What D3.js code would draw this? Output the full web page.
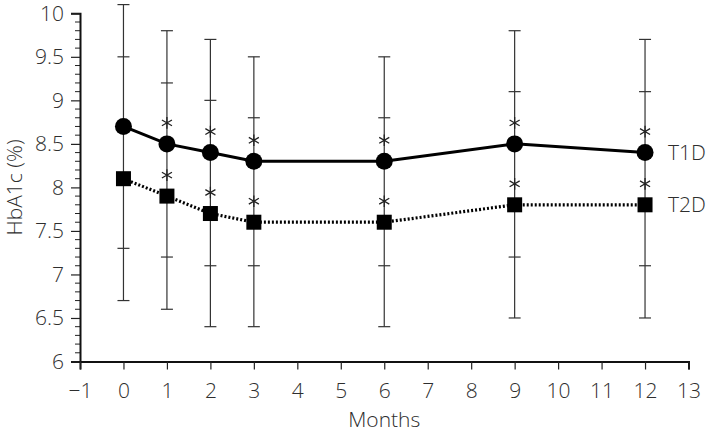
<!DOCTYPE html>
<html><head><meta charset="utf-8">
<script src="https://cdn.jsdelivr.net/npm/d3@7"></script>
<style>
body{margin:0;background:#fff;}
text{font-family:"Open Sans",sans-serif;font-weight:300;fill:#2e2e2e;}
</style></head>
<body><svg id="c" width="709" height="434"></svg>
<script>
const months = [0, 1, 2, 3, 6, 9, 12];
const t1dMean = [8.7, 8.5, 8.4, 8.3, 8.3, 8.5, 8.4];
const t1dSD   = [1.4, 1.3, 1.3, 1.2, 1.2, 1.3, 1.3];
const t2dMean = [8.1, 7.9, 7.7, 7.6, 7.6, 7.8, 7.8];
const t2dSD   = [1.4, 1.3, 1.3, 1.2, 1.2, 1.3, 1.3];
const signif  = [false, true, true, true, true, true, true];
const xTicks = d3.range(-1, 14);
const yTicks = [6, 6.5, 7, 7.5, 8, 8.5, 9, 9.5, 10];
const seriesNames = ["T1D", "T2D"];

const svg = d3.select("#c");
const x = d3.scaleLinear().domain([-1, 13]).range([80, 688.5]);
const y = d3.scaleLinear().domain([6, 10]).range([361.5, 13.3]);

// minor y ticks
const minor = d3.range(6, 10.001, 0.1).filter(v => Math.abs(v*2 - Math.round(v*2)) > 1e-6);
svg.append("g").selectAll("line").data(minor).join("line")
  .attr("x1", x(-1) - 5).attr("x2", x(-1))
  .attr("y1", d => y(d)).attr("y2", d => y(d))
  .attr("stroke", "#222").attr("stroke-width", 1);

const yAxis = svg.append("g").attr("transform", `translate(${x(-1)},0)`)
  .call(d3.axisLeft(y).tickValues(yTicks).tickFormat(d => d).tickSizeOuter(0).tickSize(9).tickPadding(7));
const xAxis = svg.append("g").attr("transform", `translate(0,${y(6)})`)
  .call(d3.axisBottom(x).tickValues(xTicks).tickFormat(d => d < 0 ? "\u2212" + Math.abs(d) : d).tickSizeOuter(0).tickSize(8).tickPadding(14));
[yAxis, xAxis].forEach(a => {
  a.select(".domain").attr("stroke", "#111").attr("stroke-width", 2);
  a.selectAll(".tick line").attr("stroke", "#222").attr("stroke-width", 1.2);
  a.selectAll("text").attr("font-size", 21).attr("font-family", '"Open Sans",sans-serif').attr("fill", "#2e2e2e");
});

// axis titles
svg.append("text").attr("x", x(6)).attr("y", 427).attr("text-anchor", "middle")
  .attr("font-size", 21).text("Months");
svg.append("text").attr("transform", `translate(22,${y(8)}) rotate(-90)`).attr("text-anchor", "middle")
  .attr("font-size", 21).text("HbA1c (%)");

// error bars
const eb = svg.append("g").attr("stroke", "#333").attr("stroke-width", 1.2);
months.forEach((m, i) => {
  const vals = [t1dMean[i] + t1dSD[i], t1dMean[i] - t1dSD[i], t2dMean[i] + t2dSD[i], t2dMean[i] - t2dSD[i]];
  eb.append("line").attr("x1", x(m)).attr("x2", x(m))
    .attr("y1", y(d3.max(vals))).attr("y2", y(d3.min(vals)));
  vals.forEach(v => eb.append("line").attr("x1", x(m) - 6).attr("x2", x(m) + 6)
    .attr("y1", y(v)).attr("y2", y(v)));
});

// lines
const line = d3.line().x(d => x(d[0])).y(d => y(d[1]));
svg.append("path").datum(months.map((m, i) => [m, t1dMean[i]]))
  .attr("d", line).attr("fill", "none").attr("stroke", "#000").attr("stroke-width", 3);
svg.append("path").datum(months.map((m, i) => [m, t2dMean[i]]))
  .attr("d", line).attr("fill", "none").attr("stroke", "#000").attr("stroke-width", 3.2)
  .attr("stroke-dasharray", "2,2");

// markers
svg.append("g").selectAll("circle").data(months).join("circle")
  .attr("cx", d => x(d)).attr("cy", (d, i) => y(t1dMean[i])).attr("r", 8.5).attr("fill", "#000");
svg.append("g").selectAll("rect").data(months).join("rect")
  .attr("x", d => x(d) - 7.5).attr("y", (d, i) => y(t2dMean[i]) - 7.5)
  .attr("width", 15).attr("height", 15).attr("fill", "#000");

// asterisks
const ast = d3.symbol(d3.symbolAsterisk, 95);
[t1dMean, t2dMean].forEach(arr => {
  svg.append("g").selectAll("path").data(months.filter((m, i) => signif[i]).map(m => [m, arr[months.indexOf(m)]]))
    .join("path").attr("d", ast)
    .attr("transform", d => `translate(${x(d[0])},${y(d[1]) - 21})`)
    .attr("fill", "none").attr("stroke", "#222").attr("stroke-width", 1.3);
});

// series labels
const last = months.length - 1;
[t1dMean[last], t2dMean[last]].forEach((v, k) => {
  svg.append("text").attr("x", x(12) + 23).attr("y", y(v)).attr("dy", "0.36em")
    .attr("font-size", 21).text(seriesNames[k]);
});
</script></body></html>
